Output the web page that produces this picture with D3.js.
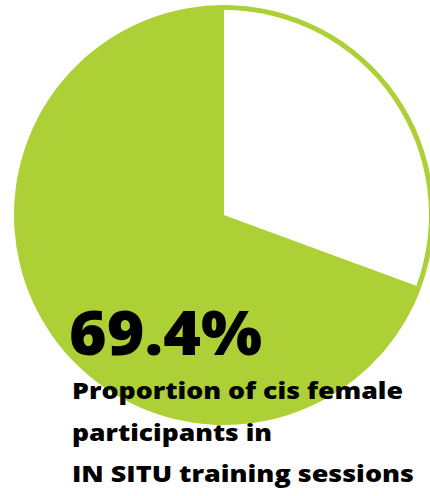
<!DOCTYPE html>
<html>
<head>
<meta charset="utf-8">
<script src="https://cdn.jsdelivr.net/npm/d3@7"></script>
<style>
  html, body { margin: 0; padding: 0; background: #fff; }
  svg { display: block; }
</style>
</head>
<body>
<script>
var w = 430;
var h = 496;

// slices, clockwise from 12 o'clock
var categories = ["Other", "Cis female"];
var values = [30.6, 69.4];
var bigLabel = "69.4%";
var captionLines = ["Proportion of cis female", "participants in", "IN SITU training sessions"];

var green = "#add037";
var cx = 224, cy = 215, R = 210, ring = 5;

var svg = d3.select("body")
    .append("svg")
    .attr("width", w)
    .attr("height", h);

var pie = d3.pie().sort(null).value(function (d) { return d; });
var arcs = pie(values);

var g = svg.append("g").attr("transform", "translate(" + cx + "," + cy + ")");

var fullArc = d3.arc().innerRadius(0).outerRadius(R);
var innerArc = d3.arc().innerRadius(0).outerRadius(R - ring);

// green slice
g.append("path")
    .attr("d", fullArc(arcs[1]))
    .attr("fill", green);

// white slice with a thin green rim
g.append("path")
    .attr("d", fullArc(arcs[0]))
    .attr("fill", green);
g.append("path")
    .attr("d", innerArc(arcs[0]))
    .attr("fill", "#fff");

svg.append("text")
    .attr("x", 69)
    .attr("y", 355)
    .attr("font-family", "'Open Sans', sans-serif")
    .attr("font-weight", 800)
    .attr("font-size", 62)
    .attr("fill", "#000")
    .attr("textLength", 193)
    .attr("lengthAdjust", "spacingAndGlyphs")
    .text(bigLabel);

var lineX = 72;
var baselines = [399, 441, 482];
var widths = [331, 200, 342];

svg.selectAll("text.cap")
    .data(captionLines)
    .enter()
    .append("text")
    .attr("class", "cap")
    .attr("x", lineX)
    .attr("y", function (d, i) { return baselines[i]; })
    .attr("font-family", "'Open Sans', sans-serif")
    .attr("font-weight", 800)
    .attr("font-size", 23)
    .attr("fill", "#000")
    .attr("textLength", function (d, i) { return widths[i]; })
    .attr("lengthAdjust", "spacingAndGlyphs")
    .text(function (d) { return d; });
</script>
</body>
</html>
